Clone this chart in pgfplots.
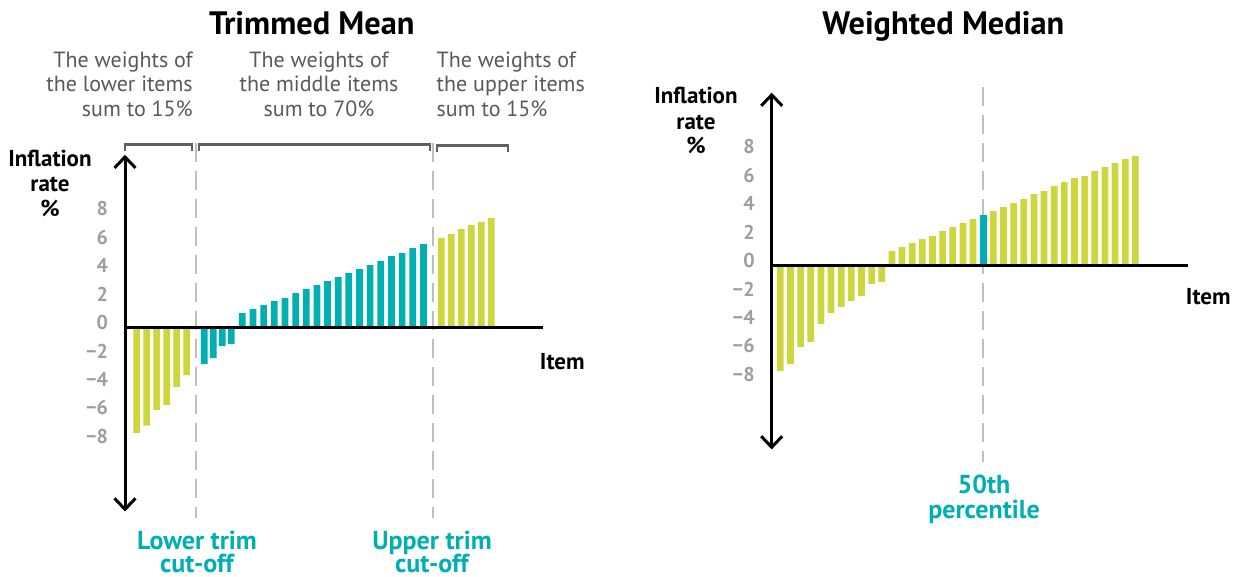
\documentclass[border=0pt]{standalone}
\usepackage{fontspec}
\setmainfont{PT Sans}
\usepackage{pgfplots}
\pgfplotsset{compat=1.18}
\usetikzlibrary{arrows.meta}
\definecolor{yel}{HTML}{CDD63D}
\definecolor{teal}{HTML}{00AFB4}
\definecolor{tickgrey}{HTML}{9E9E9E}
\definecolor{txtgrey}{HTML}{595959}
\definecolor{dashgrey}{HTML}{BFBFBF}
\definecolor{brgrey}{HTML}{606060}
\newcommand{\PX}[2]{({(#1)*0.5pt},{(577-(#2))*0.5pt})}
\newcommand{\tl}[1]{\hbox{\fontsize{10pt}{12pt}\selectfont\bfseries\color{tickgrey}#1}}
\pgfplotsset{
  mychart/.style={
    x=0.5pt, y=7.1pt,
    ymin=-12.95, ymax=12.17,
    enlargelimits=false,
    clip=false,
    axis on top,
    axis x line=middle,
    axis y line=left,
    x axis line style={-, line width=1.5pt},
    y axis line style={{Straight Barb[length=5.5pt,width=10.5pt,line width=1.5pt]}-{Straight Barb[length=5.5pt,width=10.5pt,line width=1.5pt]}, line width=1.5pt},
    xtick=\empty,
    ytick={-8,-6,-4,-2,0,2,4,6,8},
    yticklabels={\tl{−8},\tl{−6},\tl{−4},\tl{−2},\tl{0},\tl{2},\tl{4},\tl{6},\tl{8}},
    hide obscured y ticks=false,
    major tick length=0pt,
    yticklabel style={anchor=east, inner sep=0pt, xshift=-8.35pt, yshift=2.5pt},
    ybar, bar width=3.35pt, bar shift=0pt,
  },
  yb/.style={fill=yel, draw=none},
  tb/.style={fill=teal, draw=none},
}
\begin{document}
\begin{tikzpicture}
\useasboundingbox (0,0) rectangle (618.5pt,288.5pt);
% ---------------- Left: Trimmed Mean
\begin{axis}[mychart, xmin=0, xmax=417.7, at={(62.5pt,32.75pt)}, anchor=south west]
\draw[dashgrey, line width=1pt, dash pattern=on 9.5pt off 4.5pt] (axis cs:70.7,13.0) -- (axis cs:70.7,-13.41);
\draw[dashgrey, line width=1pt, dash pattern=on 9.5pt off 4.5pt] (axis cs:307.7,13.0) -- (axis cs:307.7,-13.41);
\draw[brgrey, line width=1.15pt] (axis cs:0.3,12.47) -- (axis cs:0.3,12.89) -- (axis cs:66.7,12.89) -- (axis cs:66.7,12.47);
\draw[brgrey, line width=1.15pt] (axis cs:74.3,12.47) -- (axis cs:74.3,12.89) -- (axis cs:305,12.89) -- (axis cs:305,12.47);
\draw[brgrey, line width=1.15pt] (axis cs:312.3,12.40) -- (axis cs:312.3,12.82) -- (axis cs:383,12.82) -- (axis cs:383,12.40);
\addplot[yb] coordinates {(11.7,-7.41) (21.7,-6.91) (31.7,-5.81) (41.7,-5.46) (51.7,-4.17) (61.7,-3.35)};
\addplot[tb] coordinates {(79.3,-2.57) (88.3,-2.15) (97.3,-1.30) (106.3,-1.16)};
\addplot[tb] coordinates {(117.3,1.02) (128.0,1.30) (138.6,1.58) (149.3,1.87) (159.9,2.08) (170.6,2.43) (181.2,2.71) (191.9,2.99) (202.5,3.27) (213.2,3.56) (223.8,3.84) (234.5,4.12) (245.1,4.40) (255.8,4.69) (266.4,5.04) (277.1,5.25) (287.7,5.60) (298.4,5.88)};
\addplot[yb] coordinates {(316.3,6.30) (326.3,6.58) (336.3,6.93) (346.3,7.22) (356.3,7.43) (366.3,7.71)};
\end{axis}
% ---------------- Right: Weighted Median
\begin{axis}[mychart, xmin=0, xmax=416.6, at={(385.85pt,63.8pt)}, anchor=south west]
\draw[dashgrey, line width=1pt, dash pattern=on 9.5pt off 4.5pt] (axis cs:211.3,12.57) -- (axis cs:211.3,-13.84);
\addplot[yb] coordinates {(8.6,-7.42) (18.7,-6.92) (28.9,-5.73) (39.0,-5.38) (49.2,-4.11) (59.3,-3.33) (69.5,-2.91) (79.6,-2.49) (89.7,-2.14) (99.9,-1.29) (110.0,-1.15)
 (120.2,1.01) (130.3,1.29) (140.5,1.57) (150.6,1.85) (160.7,2.07) (170.9,2.42) (181.0,2.70) (191.2,2.98) (201.3,3.26)
 (221.6,3.83) (231.7,4.11) (241.9,4.39) (252.0,4.67) (262.2,5.02) (272.3,5.23) (282.5,5.59) (292.6,5.87) (302.7,6.15) (312.9,6.29) (323.0,6.64) (333.2,6.92) (343.3,7.21) (353.5,7.49) (363.6,7.70)};
\addplot[tb] coordinates {(211.5,3.54)};
\end{axis}
% ---------------- Texts
\begin{scope}[every node/.style={inner sep=0pt, outer sep=0pt}]
\node[anchor=base, font=\fontsize{16.2pt}{19pt}\selectfont\bfseries] at \PX{311.8}{35} {Trimmed Mean};
\node[anchor=base, font=\fontsize{16.2pt}{19pt}\selectfont\bfseries] at \PX{943.3}{35} {Weighted Median};
\begin{scope}[every node/.append style={font=\fontsize{11pt}{12.35pt}\selectfont, text=txtgrey}]
\node[anchor=base east] at \PX{192.7}{67.3} {The weights of};
\node[anchor=base east] at \PX{192.7}{92} {the lower items};
\node[anchor=base east] at \PX{192.7}{116.7} {sum to 15\%};
\node[anchor=base] at \PX{319}{67.3} {The weights of};
\node[anchor=base] at \PX{319}{92} {the middle items};
\node[anchor=base] at \PX{319}{116.7} {sum to 70\%};
\node[anchor=base west] at \PX{436.7}{67.3} {The weights of};
\node[anchor=base west] at \PX{436.7}{92} {the upper items};
\node[anchor=base west] at \PX{436.7}{116.7} {sum to 15\%};
\end{scope}
\begin{scope}[every node/.append style={font=\fontsize{11.5pt}{12.75pt}\selectfont\bfseries}]
\node[anchor=base] at \PX{50}{166.7} {Inflation};
\node[anchor=base] at \PX{50}{191.7} {rate};
\node[anchor=base] at \PX{50}{216.5} {\%};
\node[anchor=base] at \PX{696}{103.3} {Inflation};
\node[anchor=base] at \PX{696}{129.3} {rate};
\node[anchor=base] at \PX{696}{154} {\%};
\node[anchor=base] at \PX{562.3}{369.3} {Item};
\node[anchor=base] at \PX{1208.3}{305} {Item};
\end{scope}
\begin{scope}[every node/.append style={font=\fontsize{13pt}{14pt}\selectfont\bfseries, text=teal}]
\node[anchor=base] at \PX{197}{549.3} {Lower trim};
\node[anchor=base] at \PX{197}{572.3} {cut-off};
\node[anchor=base] at \PX{432}{549.3} {Upper trim};
\node[anchor=base] at \PX{432}{572.3} {cut-off};
\node[anchor=base] at \PX{984}{494} {50th};
\node[anchor=base] at \PX{984}{519} {percentile};
\end{scope}
\end{scope}
\end{tikzpicture}
\end{document}
